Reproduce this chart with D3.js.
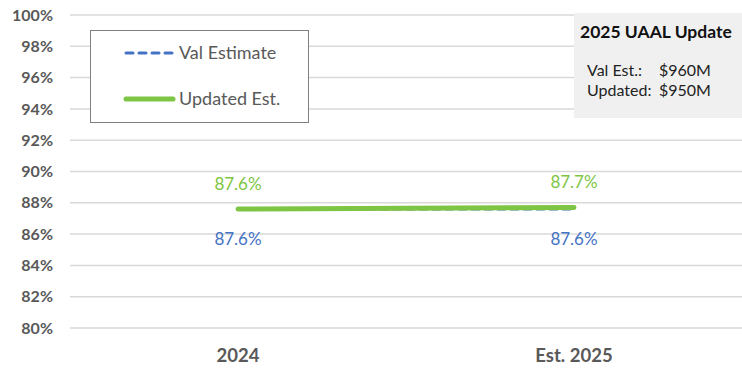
<!DOCTYPE html>
<html>
<head>
<meta charset="utf-8">
<script src="https://cdn.jsdelivr.net/npm/d3@7"></script>
<style>
  body { margin: 0; background: #fff; }
  svg { display: block; font-family: Lato, "Open Sans", sans-serif; }
</style>
</head>
<body>
<svg id="chart" width="742" height="373"></svg>
<script>
const categories = ["2024", "Est. 2025"];
const valEstimate = [87.6, 87.6];
const updatedEst = [87.6, 87.7];
const yTicks = [80, 82, 84, 86, 88, 90, 92, 94, 96, 98, 100];
const legendLabels = ["Val Estimate", "Updated Est."];
const boxTitle = "2025 UAAL Update";
const boxLines = [["Val Est.:", "$960M"], ["Updated:", "$950M"]];

const blue = "#4472c4", green = "#7ec544", grid = "#d9d9d9", axisText = "#595959";

const svg = d3.select("#chart");
const m = { left: 70, right: 742, top: 15, bottom: 328 };

const x = d3.scaleBand().domain(categories).range([m.left, m.right]);
const y = d3.scaleLinear().domain([80, 100]).range([m.bottom, m.top]);

// gridlines
svg.append("g").selectAll("line").data(yTicks).join("line")
  .attr("x1", m.left).attr("x2", m.right)
  .attr("y1", d => y(d)).attr("y2", d => y(d))
  .attr("stroke", grid).attr("stroke-width", 1.5);

// y axis labels
const yAxis = svg.append("g").attr("transform", `translate(${m.left},0)`)
  .call(d3.axisLeft(y).tickValues(yTicks).tickFormat(d => d + "%").tickSize(0).tickPadding(17));
yAxis.select(".domain").remove();
yAxis.selectAll("text").attr("fill", axisText).attr("font-size", 16).attr("font-weight", "bold")
  .attr("font-family", "Lato, sans-serif");

// x axis labels
const xAxis = svg.append("g").attr("transform", `translate(0,${m.bottom})`)
  .call(d3.axisBottom(x).tickSize(0).tickPadding(21));
xAxis.select(".domain").remove();
xAxis.selectAll("text").attr("fill", axisText).attr("font-size", 18.5).attr("font-weight", "bold")
  .attr("font-family", "Lato, sans-serif");

const cx = d => x(d) + x.bandwidth() / 2;
const line = d3.line().x((d, i) => cx(categories[i])).y(d => y(d));

svg.append("path").datum(valEstimate).attr("d", line)
  .attr("fill", "none").attr("stroke", blue).attr("stroke-width", 3)
  .attr("stroke-dasharray", "7,6").attr("stroke-linecap", "round");
svg.append("path").datum(updatedEst).attr("d", line)
  .attr("fill", "none").attr("stroke", green).attr("stroke-width", 5).attr("stroke-linecap", "round");

// data labels
svg.append("g").selectAll("text").data(updatedEst).join("text")
  .attr("x", (d, i) => cx(categories[i])).attr("y", d => y(d) - 19)
  .attr("text-anchor", "middle").attr("fill", green).attr("font-size", 17)
  .text(d => d.toFixed(1) + "%");
svg.append("g").selectAll("text").data(valEstimate).join("text")
  .attr("x", (d, i) => cx(categories[i])).attr("y", d => y(d) + 36)
  .attr("text-anchor", "middle").attr("fill", blue).attr("font-size", 17)
  .text(d => d.toFixed(1) + "%");

// legend
const lg = svg.append("g");
lg.append("rect").attr("x", 90.5).attr("y", 30.5).attr("width", 218).attr("height", 92)
  .attr("fill", "#fff").attr("stroke", "#7f7f7f").attr("stroke-width", 1);
const legendStyles = [
  { color: blue, width: 3, dash: "7,6" },
  { color: green, width: 5, dash: null }
];
legendLabels.forEach((lab, i) => {
  const ly = 53 + i * 46;
  lg.append("line").attr("x1", 126).attr("x2", 173).attr("y1", ly).attr("y2", ly)
    .attr("stroke", legendStyles[i].color).attr("stroke-width", legendStyles[i].width)
    .attr("stroke-dasharray", legendStyles[i].dash).attr("stroke-linecap", "round");
  lg.append("text").attr("x", 179).attr("y", ly + 6).attr("fill", axisText)
    .attr("font-size", 18).text(lab);
});

// annotation box
const bx = svg.append("g");
bx.append("rect").attr("x", 574).attr("y", 13).attr("width", 168).attr("height", 105).attr("fill", "#f0f0f0");
bx.append("text").attr("x", 580).attr("y", 38).attr("font-size", 17.5).attr("font-weight", "bold")
  .attr("fill", "#111").text(boxTitle);
boxLines.forEach((row, i) => {
  const t = bx.append("text").attr("y", 76 + i * 20).attr("font-size", 16).attr("fill", "#222");
  t.append("tspan").attr("x", 587).text(row[0]);
  t.append("tspan").attr("x", 659).text(row[1]);
});
</script>
</body>
</html>
